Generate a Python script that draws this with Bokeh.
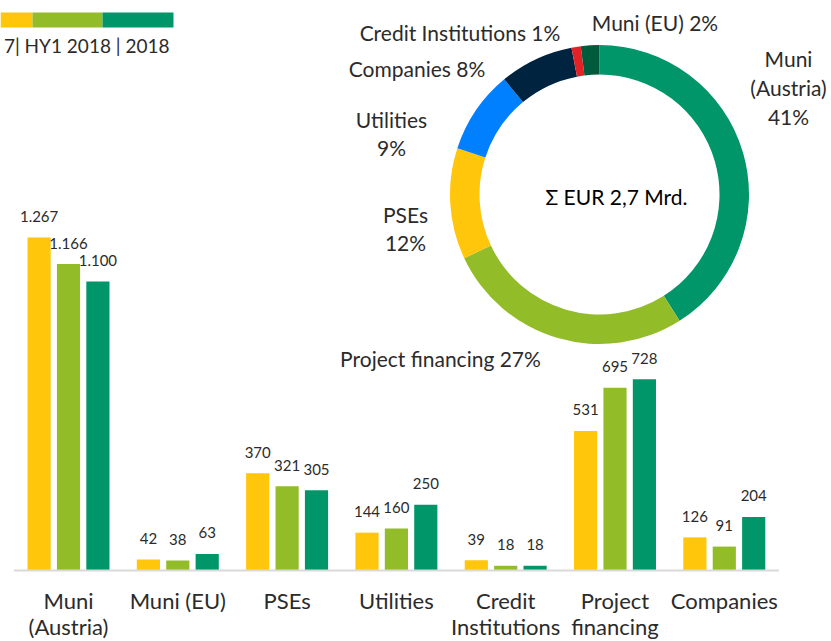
import math
from bokeh.plotting import figure
from bokeh.models import ColumnDataSource, Range1d
from bokeh.transform import dodge
from bokeh.core.properties import value
from bokeh.embed import file_html
from bokeh.resources import INLINE

# ---------------- data ----------------
categories = ["Muni (Austria)", "Muni (EU)", "PSEs", "Utilities",
              "Credit Institutions", "Project financing", "Companies"]
tick_labels = ["Muni\n(Austria)", "Muni (EU)", "PSEs", "Utilities",
               "Credit\nInstitutions", "Project\nfinancing", "Companies"]
series_names = ["2017", "HY1 2018", "2018"]
v2017 = [1267, 42, 370, 144, 39, 531, 126]
vhy1 = [1166, 38, 321, 160, 18, 695, 91]
v2018 = [1100, 63, 305, 250, 18, 728, 204]

donut_labels = ["Muni (Austria)", "Project financing", "PSEs", "Utilities",
                "Companies", "Credit Institutions", "Muni (EU)"]
donut_share = [41, 27, 12, 9, 8, 1, 2]
donut_total = "Σ EUR 2,7 Mrd."
legend_text = "7| HY1 2018 | 2018"

# ---------------- style ----------------
FONT = value("Lato")
TXT = "#2b2b2b"
series_colors = ["#FFC60B", "#93BC29", "#009669"]
donut_colors = ["#009669", "#93BC29", "#FFC60B", "#0080FF",
                "#002340", "#E32227", "#005A3C"]

W, H = 831, 641
PX = 109.3          # pixels per category
C0 = 68             # page x of first category centre
K = 0.2628          # pixels per value unit
BASE = 570          # page y of baseline

p = figure(width=W, height=H, output_backend="svg", toolbar_location=None,
           x_range=Range1d((0 - C0) / PX, (W - C0) / PX),
           y_range=Range1d(-(H - BASE) / K, BASE / K),
           x_axis_location=None, y_axis_location=None,
           min_border=0, outline_line_color=None)
p.grid.visible = False
p.background_fill_color = "white"
p.extra_x_ranges = {"px": Range1d(0, W)}
p.extra_y_ranges = {"py": Range1d(-H, 0)}

def fmt(v):
    return f"{v:,}".replace(",", ".")

src = ColumnDataSource(dict(
    idx=list(range(len(categories))), cat=categories, tick=tick_labels,
    zero=[0] * len(categories),
    v2017=v2017, vhy1=vhy1, v2018=v2018,
    l2017=[fmt(v) for v in v2017], lhy1=[fmt(v) for v in vhy1],
    l2018=[fmt(v) for v in v2018]))

offs = [-0.269, 0.0, 0.269]
for col, lab, off, c in zip(["v2017", "vhy1", "v2018"], ["l2017", "lhy1", "l2018"],
                            offs, series_colors):
    p.vbar(x=dodge("idx", off, range=p.x_range), top=col, bottom=0, width=0.212,
           source=src, fill_color=c, line_color=None)
    p.text(x=dodge("idx", off, range=p.x_range), y=col, text=lab, source=src,
           text_align="center", text_baseline="alphabetic", y_offset=-21,
           text_font=FONT, text_font_size="15px", text_color=TXT)

# baseline (category axis line)
p.segment(x0=[-0.5], x1=[len(categories) - 0.5], y0=[0], y1=[0],
          line_color="#D9D9D9", line_width=2)

# category labels
p.text(x="idx", y="zero", text="tick", source=src, text_align="center",
       text_baseline="top", y_offset=16, text_font=FONT, text_font_size="22px",
       text_line_height=0.98, text_color=TXT)

# legend (swatches above text)
lx = [0, 32, 102, 173]
p.quad(left=lx[:-1], right=lx[1:], top=[-12] * 3, bottom=[-27] * 3,
       fill_color=series_colors, line_color=None,
       x_range_name="px", y_range_name="py")
p.text(x=[169], y=[-45], text=[legend_text], text_align="right",
       text_baseline="middle", text_font=FONT, text_font_size="19px",
       text_color=TXT, x_range_name="px", y_range_name="py")

# donut (2018 structure)
tot = sum(donut_share)
starts, ends, cum = [], [], 0
for s in donut_share:
    starts.append(math.pi / 2 - 2 * math.pi * cum / tot)
    cum += s
    ends.append(math.pi / 2 - 2 * math.pi * cum / tot)
DX, DY = 599, -194
dsrc = ColumnDataSource(dict(name=donut_labels, share=donut_share,
                             start=starts, end=ends, color=donut_colors))
p.annular_wedge(x=DX, y=DY, inner_radius=120, outer_radius=149.5,
                inner_radius_units="screen", outer_radius_units="screen",
                start_angle="start", end_angle="end", direction="clock",
                fill_color="color", line_color=None, source=dsrc,
                x_range_name="px", y_range_name="py")

templates = {"Muni (Austria)": "Muni\n(Austria)\n{}%",
             "Project financing": "Project financing {}%",
             "PSEs": "PSEs\n{}%",
             "Utilities": "Utilities\n{}%",
             "Companies": "Companies {}%",
             "Credit Institutions": "Credit Institutions {}%",
             "Muni (EU)": "Muni (EU) {}%"}
label_pos = {"Muni (Austria)": (788, 87), "Project financing": (440, 358),
             "PSEs": (405, 228), "Utilities": (391, 133),
             "Companies": (416.5, 68), "Credit Institutions": (459.5, 32),
             "Muni (EU)": (654.5, 22)}
p.text(x=[label_pos[n][0] for n in donut_labels],
       y=[-label_pos[n][1] for n in donut_labels],
       text=[templates[n].format(s) for n, s in zip(donut_labels, donut_share)],
       text_align="center", text_baseline="middle", text_font=FONT,
       text_font_size="21px", text_line_height=1.15, text_color=TXT,
       x_range_name="px", y_range_name="py")
p.text(x=[616], y=[-196], text=[donut_total], text_align="center",
       text_baseline="middle", text_font=FONT, text_font_size="21px",
       text_color="black", x_range_name="px", y_range_name="py")

open("out.html", "w").write(file_html(p, INLINE))
